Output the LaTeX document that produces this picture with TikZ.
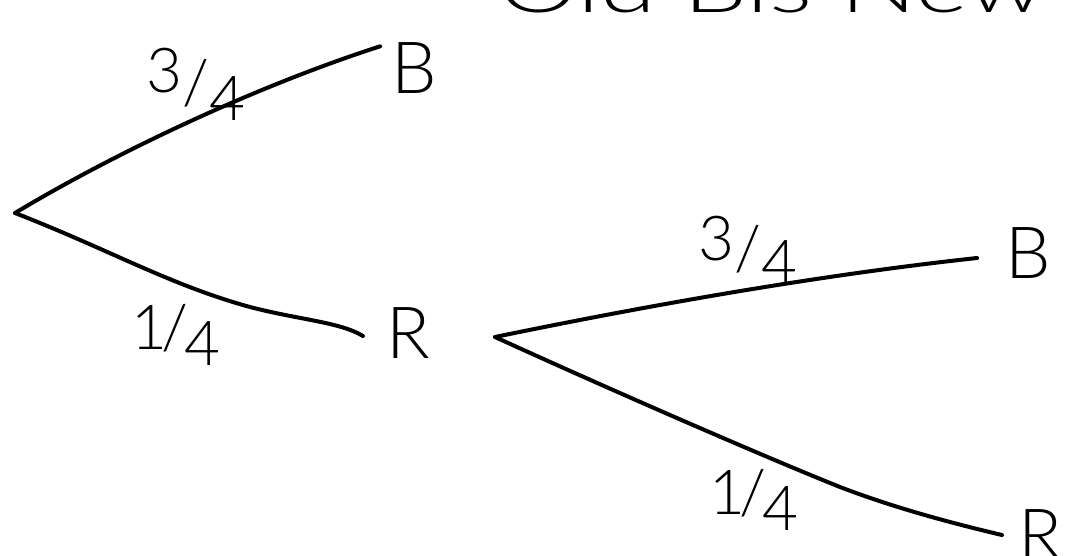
\documentclass[tikz,border=0pt]{standalone}
\usepackage{fontspec}
\setmainfont{Lato}[UprightFont=* Light]
\begin{document}
\begin{tikzpicture}[x=1pt,y=-1pt,
  stroke/.style={line width=4pt,line cap=round,line join=round,black},
  leaf/.style={inner sep=0pt,font=\fontsize{72}{72}\selectfont},
  prob/.style={inner sep=0pt,font=\fontsize{62}{62}\selectfont},
  heading/.style={inner sep=0pt,anchor=base,font=\fontsize{70}{70}\selectfont}]
\clip (0,0) rectangle (1071,555);
\fill[white] (0,0) rectangle (1071,555);
% heading (cut off at the top)
\node[heading] (title) at (772,12) {\scalebox{1.45}[1]{Old Bis New}};
% first stage
\coordinate (root1) at (15,213);
\node[leaf] (B1) at (414,68) {B};
\node[leaf] (R1) at (408,333) {R};
\draw[stroke] (root1) .. controls (120,150) and (260,85) .. ([shift={(-11,4)}]B1.north west);
\draw[stroke] (root1) .. controls (110,250) and (170,285) .. (250,307)
  .. controls (300,320) and (340,322) .. ([shift={(-23,3)}]R1.west);
\node[prob] (p1) at (196,84) {\raisebox{12pt}{3}/\raisebox{-16pt}{4}};
\node[prob] (p2) at (176,335) {1\kern-6pt/\kern-4pt\raisebox{-16pt}{4}};
% second stage
\coordinate (root2) at (495,337);
\node[leaf] (B2) at (1028,253) {B};
\node[leaf] (R2) at (1040,535) {R};
\draw[stroke] (root2) .. controls (650,305) and (820,275) .. ([shift={(-28,5)}]B2.west);
\draw[stroke] (root2) .. controls (600,385) and (760,455) .. (840,487)
  .. controls (900,510) and (960,525) .. ([shift={(-16,0)}]R2.west);
\node[prob] (p3) at (748,250) {\raisebox{10pt}{3}/\raisebox{-14pt}{4}};
\node[prob] (p4) at (754,500) {1\kern-6pt/\kern-4pt\raisebox{-16pt}{4}};
\end{tikzpicture}
\end{document}
